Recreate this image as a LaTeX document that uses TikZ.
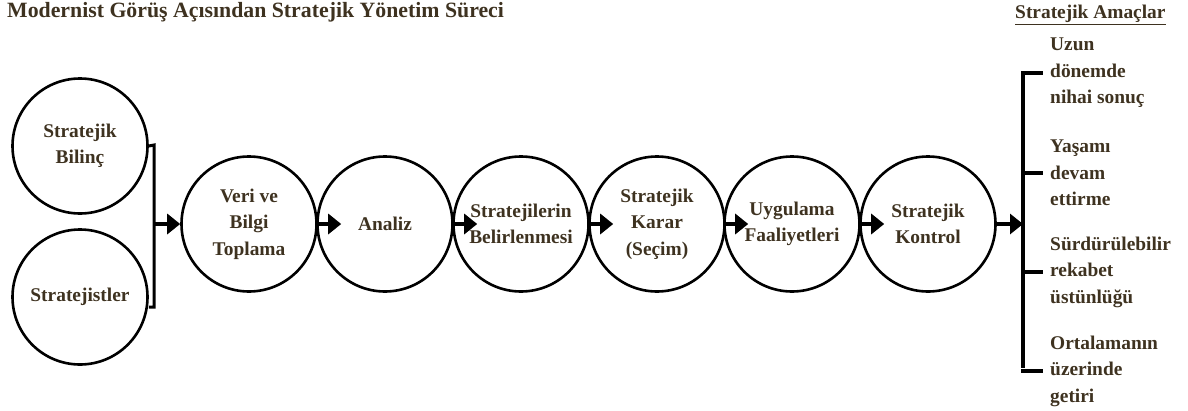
\documentclass[tikz,border=0pt]{standalone}
\usepackage{fontspec}
\setmainfont{Liberation Serif}
\usetikzlibrary{arrows.meta}
\definecolor{txt}{RGB}{62,50,32}
\begin{document}
\begin{tikzpicture}[x=1pt,y=-1pt,
 circ/.style={circle,draw=black,line width=2.6pt,minimum size=135pt,inner sep=0pt,align=center,text=txt,font=\bfseries\fontsize{19.4}{26.5}\selectfont},
 lbl/.style={align=left,anchor=west,text=txt,font=\bfseries\fontsize{19.4}{26.5}\selectfont,inner sep=0pt},
 arr/.style={line width=4pt,-{Triangle[length=13pt,width=20pt]}},
 brk/.style={line width=3pt},
 stub/.style={line width=4pt},
]
\useasboundingbox (0,0) rectangle (1188,410);
\node[anchor=west,text=txt,font=\bfseries\fontsize{21.8}{24}\selectfont,inner sep=0pt] (title) at (7,12) {Modernist Görüş Açısından Stratejik Yönetim Süreci};
\node[anchor=west,text=txt,font=\bfseries\fontsize{19.4}{24}\selectfont,inner sep=0pt] (amac) at (1015,15) {\underline{Stratejik Amaçlar}};

\node[circ] (bil) at (80,146) {Stratejik\\Bilinç};
\node[circ] (sst) at (80,297) {Stratejistler};
\node[circ] (veri) at (249,224) {Veri ve\\Bilgi\\Toplama};
\node[circ] (ana) at (385,224) {Analiz};
\node[circ] (bel) at (521,224) {Stratejilerin\\Belirlenmesi};
\node[circ] (kar) at (657,224) {Stratejik\\Karar\\(Seçim)};
\node[circ] (uyg) at (792,224) {Uygulama\\Faaliyetleri};
\node[circ] (kon) at (928,224) {Stratejik\\Kontrol};

\coordinate (bt) at (154,145);
\coordinate (bb) at (154,307);
\draw[brk] (bil.east) -- (bt) -- (bb) -- (bb -| sst.east);
\draw[arr] (bt |- veri.west) -- (veri.west);
\draw[arr] (veri.east) -- ([xshift=25pt]ana.west);
\draw[arr] (ana.east) -- ([xshift=25pt]bel.west);
\draw[arr] (bel.east) -- ([xshift=25pt]kar.west);
\draw[arr] (kar.east) -- ([xshift=25pt]uyg.west);
\draw[arr] (uyg.east) -- ([xshift=25pt]kon.west);

\node[lbl] (g1) at (1050,73) {Uzun\\dönemde\\nihai sonuç};
\node[lbl] (g2) at (1050,173) {Yaşamı\\devam\\ettirme};
\node[lbl] (g3) at (1050,272) {Sürdürülebilir\\rekabet\\üstünlüğü};
\node[lbl] (g4) at (1050,371) {Ortalamanın\\üzerinde\\getiri};

\coordinate (rt) at (1023,72);
\coordinate (rb) at (1023,368);
\draw[stub] (rt) -- (rb);
\draw[stub] ([xshift=-2pt]g1.west -| rt) -- ([xshift=-7pt]g1.west);
\draw[stub] (g2.west -| rt) -- ([xshift=-7pt]g2.west);
\draw[stub] (g3.west -| rt) -- ([xshift=-7pt]g3.west);
\draw[stub] ([xshift=-2pt]g4.west -| rt) -- ([xshift=-7pt]g4.west);
\draw[arr] (kon.east) -- (kon.east -| rt);
\end{tikzpicture}
\end{document}
